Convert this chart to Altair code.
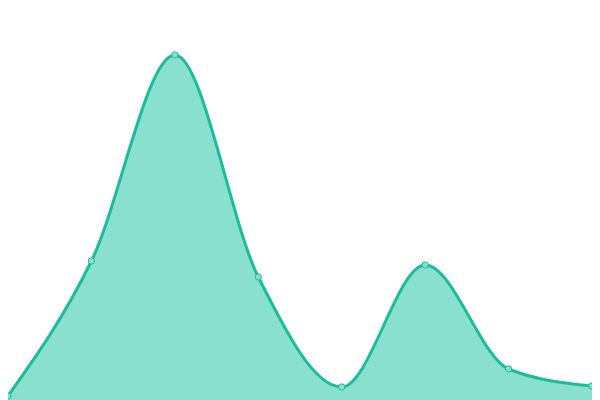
import altair as alt
import pandas as pd

xs = [0, 1, 2, 3, 4, 5, 6, 7]
values = [4, 139, 345, 123, 13, 135, 31, 14]

df = pd.DataFrame({"x": xs, "v": values})

xenc = alt.X("x:Q", scale=alt.Scale(domain=[0, 7], nice=False, zero=False), axis=None)
yenc = alt.Y("v:Q", scale=alt.Scale(domain=[0, 392], nice=False), axis=None)

base = alt.Chart(df).encode(x=xenc, y=yenc)

area = base.mark_area(interpolate="monotone", color="#8ae0cf", opacity=1)
line = base.mark_line(interpolate="monotone", color="#1abc9c", strokeWidth=3)
pts = base.mark_point(filled=True, fill="#8ae0cf", stroke="#1abc9c", strokeWidth=1, size=40, opacity=1)

chart = alt.layer(area, line, pts).properties(
    width=584, height=392,
    padding=0,
    autosize=alt.AutoSizeParams(type="none"),
).configure_view(stroke=None)

chart.save("out.html", embed_options={"renderer": "svg", "actions": False})
